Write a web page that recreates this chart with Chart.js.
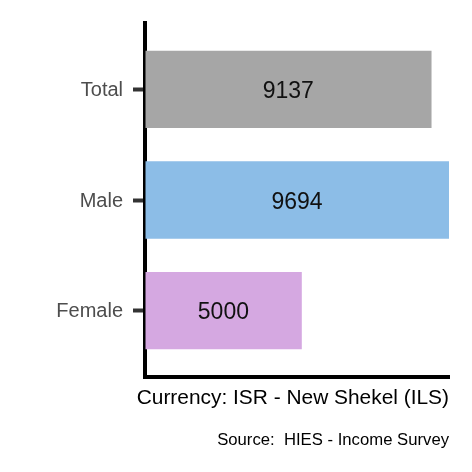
<!DOCTYPE html>
<html>
<head>
<meta charset="utf-8">
<script src="https://cdn.jsdelivr.net/npm/chart.js@4"></script>
<style>
  html, body { margin: 0; padding: 0; background: #ffffff; }
  #wrap { width: 472px; height: 472px; }
</style>
</head>
<body>
<div id="wrap"><canvas id="c" width="472" height="472"></canvas></div>
<script>
const categories = ['Total', 'Male', 'Female'];
const values = [9137, 9694, 5000];
const barColors = ['#a6a6a6', '#8cbde7', '#d5a8e1'];
const axisTitle = 'Currency: ISR - New Shekel (ILS)';
const captionText = 'Source:  HIES - Income Survey';

const FONT = "'Liberation Sans', Arial, Helvetica, sans-serif";

const valueLabels = {
  id: 'valueLabels',
  afterDatasetsDraw(chart) {
    const ctx = chart.ctx;
    const xs = chart.scales.x;
    const meta = chart.getDatasetMeta(0);
    ctx.save();
    ctx.font = '23px ' + FONT;
    ctx.fillStyle = '#111111';
    ctx.textAlign = 'center';
    ctx.textBaseline = 'alphabetic';
    meta.data.forEach((bar, i) => {
      ctx.fillText(String(values[i]), xs.getPixelForValue(values[i] / 2), bar.y + 8.6);
    });
    ctx.restore();
  }
};

const texts = {
  id: 'texts',
  afterDraw(chart) {
    const ctx = chart.ctx;
    const area = chart.chartArea;
    ctx.save();
    ctx.textAlign = 'right';
    ctx.textBaseline = 'alphabetic';
    ctx.fillStyle = '#000000';
    ctx.font = '20.9px ' + FONT;
    ctx.fillText(axisTitle, area.right, area.bottom + 27);
    ctx.font = '16.7px ' + FONT;
    ctx.fillText(captionText, area.right, chart.height - 27);
    ctx.restore();
  }
};

new Chart(document.getElementById('c'), {
  type: 'bar',
  data: {
    datasets: [{
      data: values.map((v, i) => ({ x: v, y: i + 1 })),
      backgroundColor: barColors,
      borderWidth: 0,
      categoryPercentage: 1,
      barPercentage: 0.7
    }]
  },
  options: {
    indexAxis: 'y',
    responsive: false,
    animation: false,
    devicePixelRatio: 1,
    layout: { padding: { left: 0, right: 23, top: 23, bottom: 0 } },
    plugins: { legend: { display: false }, tooltip: { enabled: false } },
    scales: {
      x: {
        type: 'linear',
        min: 0,
        max: 9694,
        offset: false,
        ticks: { display: false },
        grid: { display: true, offset: false, drawOnChartArea: false, drawTicks: false, color: 'rgba(0,0,0,0)' },
        border: { display: true, color: '#000000', width: 4 },
        title: { display: false },
        afterFit(scale) { scale.height = 95; }
      },
      y: {
        type: 'linear',
        reverse: true,
        min: 0.4,
        max: 3.6,
        offset: false,
        afterBuildTicks(scale) {
          scale.ticks = categories.map((c, i) => ({ value: i + 1 }));
        },
        ticks: {
          callback: (v) => categories[v - 1],
          color: '#4d4d4d',
          font: { family: FONT, size: 20 },
          padding: 10,
          labelOffset: 1
        },
        grid: {
          display: true,
          offset: false,
          drawOnChartArea: false,
          drawTicks: true,
          tickLength: 12,
          tickWidth: 4,
          tickColor: '#333333'
        },
        border: { display: true, color: '#000000', width: 4 },
        afterFit(scale) { scale.width = 145; }
      }
    }
  },
  plugins: [valueLabels, texts]
});
</script>
</body>
</html>
